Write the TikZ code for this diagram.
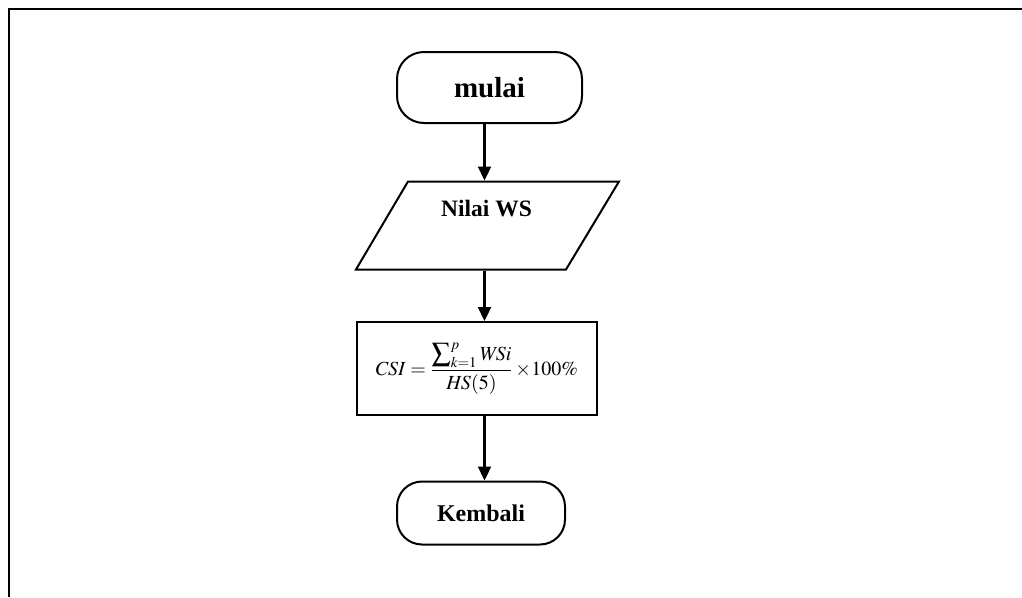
\documentclass[tikz,border=0pt]{standalone}
\usepackage{mathptmx}
\usepackage[no-math]{fontspec}
\setmainfont{Liberation Serif}
\usetikzlibrary{arrows.meta,calc}

\tikzset{
  terminal/.style={draw, rounded corners=27pt, inner sep=0pt, font=\bfseries},
  iobox/.style={inner sep=0pt, minimum width=211pt, minimum height=88pt},
  procbox/.style={draw, inner sep=0pt, minimum width=240pt, minimum height=93pt},
  flow/.style={line width=2.3pt, -{Triangle[length=14pt,width=13pt]}},
}

% enlarged summation sign for the numerator
\newcommand{\bigsumsign}{\mathop{\vcenter{\hbox{\fontsize{27}{27}\selectfont$\textstyle\sum$}}}}

\begin{document}
\begin{tikzpicture}[x=1pt, y=-1pt, line width=2pt, line join=miter]
  \useasboundingbox (0,0) rectangle (1022,597);
  % page frame
  \draw[line width=2.4pt] (9,597) -- (9,9) -- (1022,9);

  \coordinate (spine) at (484.5,0);

  \node[terminal, minimum width=185pt, minimum height=71pt,
        font=\bfseries\fontsize{29}{34}\selectfont] (mulai) at (489.5,87.5) {mulai};

  % input parallelogram: the node carries the anchors, the outline is drawn around it
  \node[iobox] (io) at (487.5,225.5) {};
  \draw (408,181.5) -- (619,181.5) -- (566,269.5) -- (356,269.5) -- cycle;
  \node[font=\bfseries\fontsize{23.5}{28}\selectfont] (iotext) at (486.5,209) {Nilai WS};

  \node[procbox, font=\fontsize{20}{24}\selectfont] (csi) at (476.5,368.5)
    {$\displaystyle \mathit{CSI}=\frac{\bigsumsign\nolimits_{k=1}^{p}\mathit{WSi}}{\mathit{HS}(5)}\times\! 100\%$};

  \node[terminal, rounded corners=25pt, minimum width=168pt, minimum height=63pt,
        font=\bfseries\fontsize{24}{29}\selectfont] (kembali) at (481,513) {Kembali};

  \draw[flow] (mulai.south -| spine) -- (io.north -| spine);
  \draw[flow] (io.south -| spine) -- (csi.north -| spine);
  \draw[flow] (csi.south -| spine) -- (kembali.north -| spine);
\end{tikzpicture}
\end{document}
